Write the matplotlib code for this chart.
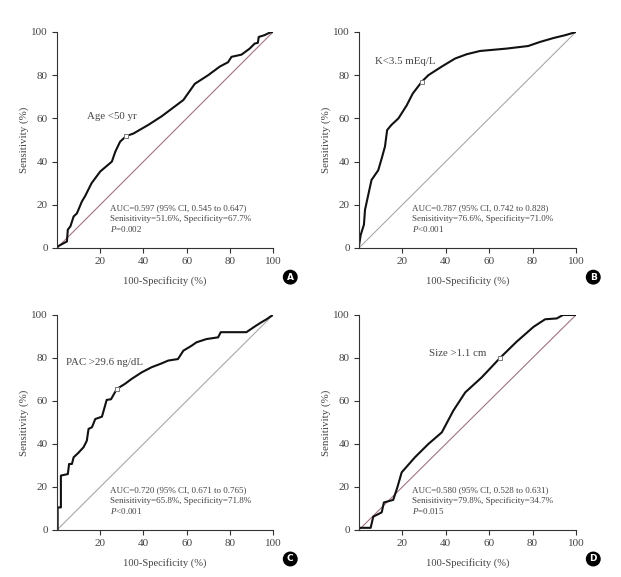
import matplotlib
matplotlib.use('Agg')
import matplotlib.pyplot as plt
import numpy as np

plt.rcParams['font.family'] = ['Liberation Serif', 'DejaVu Serif']
plt.rcParams['mathtext.fontset'] = 'custom'
plt.rcParams['mathtext.it'] = 'Liberation Serif:italic'
plt.rcParams['mathtext.rm'] = 'Liberation Serif'

##ROC curve points (100-specificity, sensitivity)
age_x = [0, 0.5, 2.3, 4.6, 5, 6.2, 7.7, 9.2, 11.5, 13, 16, 20, 25.4, 27, 29.2, 32,
         35.4, 42.3, 48.5, 58.5, 63.8, 70, 75.4, 79.2, 80.8, 85.4, 89.2, 91.5, 93,
         93.4, 96, 98.5, 100]
age_y = [0, 0.8, 1.8, 3, 8.5, 10, 14.6, 16, 21.5, 24, 30, 35.4, 40, 44.6, 49.2, 51.8,
         53, 57, 61, 68.5, 76, 80, 84, 86, 88.5, 89.5, 92.3, 94.6, 95, 97.7, 98.5,
         99.7, 100]

k_x = [0, 0.8, 2.3, 2.8, 4.3, 5.8, 8.9, 10.5, 12, 13, 15, 18.2, 22, 24.8, 29, 32,
       38.2, 44.3, 49.7, 55.8, 68, 78, 83.5, 89.7, 95, 97.4, 100]
k_y = [0.8, 6, 10.8, 17.7, 24.6, 31.5, 36, 41.5, 47, 54.6, 57, 60, 66, 71.5, 77, 80,
       84, 87.7, 89.7, 91.2, 92.3, 93.5, 95.4, 97.2, 98.5, 99.2, 100]

pac_x = [0.3, 0.3, 1.8, 1.8, 5, 5.6, 6.9, 7.7, 10, 12.3, 13.8, 14.6, 16.2, 17.7, 20.8,
         22.3, 23, 25, 27.7, 31.5, 34.6, 39.2, 43.8, 48.5, 51.5, 56, 58.5, 62.3, 64.6,
         69.2, 74.6, 75.8, 87.7, 91.5, 94.6, 97, 99, 100]
pac_y = [0, 10.5, 10.5, 25.3, 26, 30.7, 30.7, 33.8, 36, 38.5, 41.5, 47, 47.8, 51.6, 52.7,
         58, 60.5, 60.8, 65.6, 68, 70.3, 73.3, 75.7, 77.5, 78.8, 79.5, 83.4, 85.7, 87.3,
         88.8, 89.6, 92, 92, 94.6, 96.6, 98, 99.4, 100]

size_x = [0, 5.4, 6.6, 10.5, 11.5, 15.8, 17.7, 19.7, 25.8, 32, 38.2, 43.5, 49, 56.6, 65,
          72.7, 80.5, 85.8, 91.2, 94, 100]
size_y = [1, 1, 6.2, 8.2, 12.8, 14, 19.8, 26.8, 33.8, 40, 45.4, 55.5, 64, 71, 80,
          87.6, 94.5, 98, 98.4, 100, 100]

cutoffs = [(32, 51.8), (29, 77), (27.7, 65.6), (65, 80)]
labels = ['Age <50 yr', 'K<3.5 mEq/L', 'PAC >29.6 ng/dL', 'Size >1.1 cm']
label_pos = [(14, 61), (7.4, 86.5), (4.2, 77.7), (32.4, 82.3)]
auc_text = ['AUC=0.597 (95% CI, 0.545 to 0.647)',
            'AUC=0.787 (95% CI, 0.742 to 0.828)',
            'AUC=0.720 (95% CI, 0.671 to 0.765)',
            'AUC=0.580 (95% CI, 0.528 to 0.631)']
sens_spec = ['Senisitivity=51.6%, Specificity=67.7%',
             'Senisitivity=76.6%, Specificity=71.0%',
             'Senisitivity=65.8%, Specificity=71.8%',
             'Senisitivity=79.8%, Specificity=34.7%']
p_text = ['=0.002', '<0.001', '<0.001', '=0.015']
diag_colors = ['#a07482', '#a8a8a8', '#a8a8a8', '#a07482']
letters = ['A', 'B', 'C', 'D']

curves = [(age_x, age_y), (k_x, k_y), (pac_x, pac_y), (size_x, size_y)]

fig = plt.figure(figsize=(6.21, 5.77), dpi=100)
positions = [[0.0918, 0.5702, 0.3478, 0.3744],
             [0.578, 0.5702, 0.3494, 0.3744],
             [0.0918, 0.0815, 0.3478, 0.3726],
             [0.578, 0.0815, 0.3494, 0.3726]]

txt_col = '#444444'
for i, pos in enumerate(positions):
    ax = fig.add_axes(pos)
    xs, ys = curves[i]
    ax.plot([0, 100], [0, 100], color=diag_colors[i], lw=0.8)
    ax.plot(xs, ys, color='#111111', lw=1.5, solid_joinstyle='round')
    ax.plot([cutoffs[i][0]], [cutoffs[i][1]], marker='s', ms=3.2, mfc='white',
            mec='#777777', mew=0.7, ls='none')
    ax.set_xlim(0, 100)
    ax.set_ylim(0, 100)
    ax.set_xticks([20, 40, 60, 80, 100])
    ax.set_yticks([0, 20, 40, 60, 80, 100])
    for s in ['top', 'right']:
        ax.spines[s].set_visible(False)
    for s in ['left', 'bottom']:
        ax.spines[s].set_color('#333333')
        ax.spines[s].set_linewidth(0.8)
    ax.tick_params(direction='out', length=3.5, width=0.8, color='#333333',
                   labelsize=8, labelcolor=txt_col, pad=3)
    ax.set_xlabel('100-Specificity (%)', fontsize=7.6, color=txt_col, labelpad=7)
    ax.set_ylabel('Sensitivity (%)', fontsize=7.8, color=txt_col, labelpad=2)
    ax.text(label_pos[i][0], label_pos[i][1], labels[i], fontsize=7.8,
            color=txt_col, va='center', ha='left')
    ax.text(24.5, 18.5, auc_text[i], fontsize=6.5, color=txt_col, va='center')
    ax.text(24.5, 13.5, sens_spec[i], fontsize=6.5, color=txt_col, va='center')
    ax.text(24.5, 8.6, r'$\it{P}$' + p_text[i], fontsize=6.5, color=txt_col,
            va='center')
    ax.text(1.08, -0.135, letters[i], transform=ax.transAxes, fontsize=6.5,
            fontweight='bold', family='DejaVu Sans', color='white', ha='center',
            va='center', bbox=dict(boxstyle='circle,pad=0.25', fc='black', ec='black'))

fig.savefig('out.png', dpi=100)
